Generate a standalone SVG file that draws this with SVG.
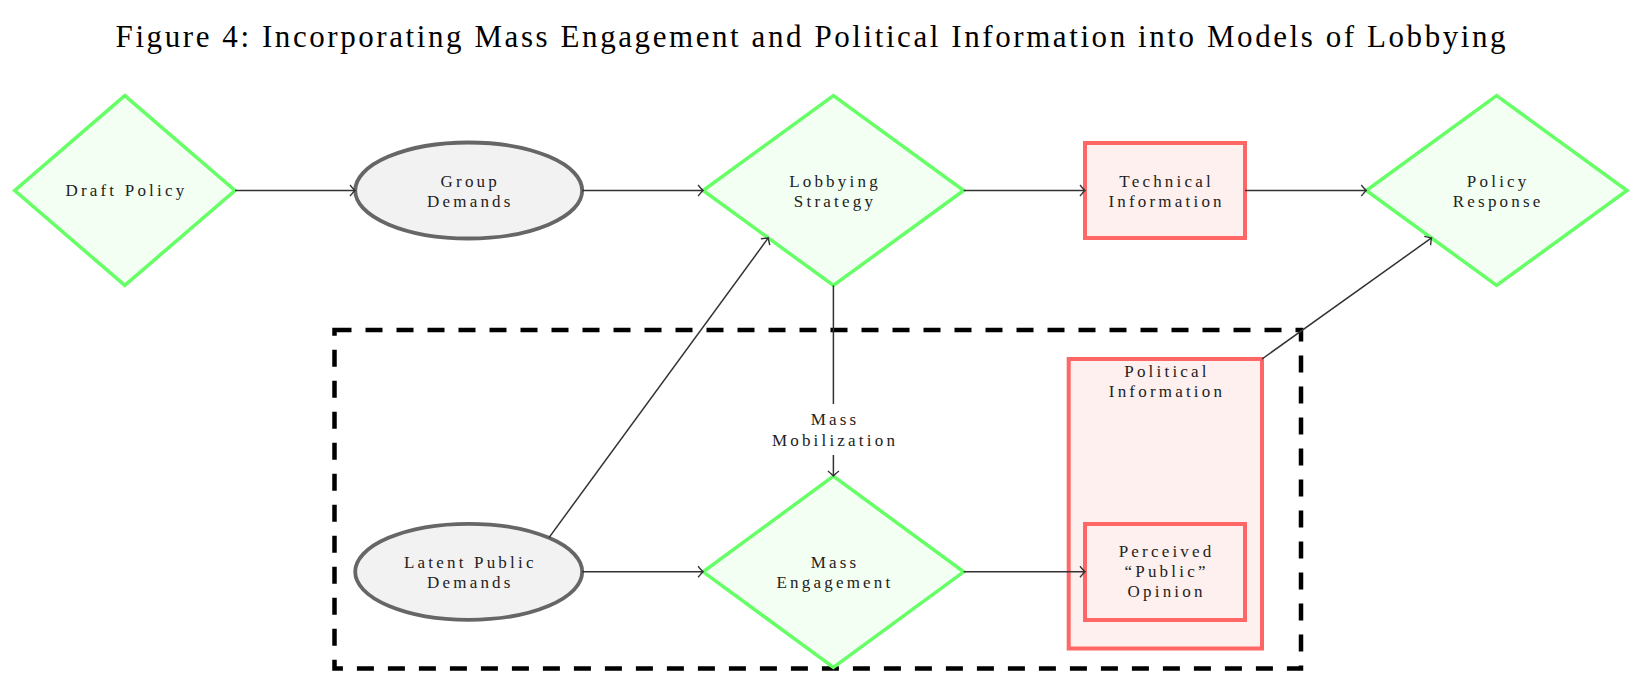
<svg xmlns="http://www.w3.org/2000/svg" width="1648" height="694" viewBox="0 0 1648 694">
<style>
.title{font-family:"Liberation Serif",serif;font-size:31px;fill:#000}
.lbl{font-family:"Liberation Serif",serif;font-size:17px;fill:#222;text-anchor:middle;letter-spacing:3.2px}
.dia{fill:#f2fff2;stroke:#66ff66;stroke-width:3.5}
.ell{fill:#f2f2f2;stroke:#666;stroke-width:3.8}
.box{fill:#fff0f0;stroke:#ff6666;stroke-width:4}
.con{stroke:#333;stroke-width:1.5;fill:none}
.arr{marker-end:url(#to)}
</style>
<defs>
<marker id="to" markerUnits="userSpaceOnUse" markerWidth="14" markerHeight="14" viewBox="-7 -7 14 14" refX="0" refY="0" orient="auto">
<path d="M -5 -5.5 Q -1.5 -1.3 0 0 Q -1.5 1.3 -5 5.5" fill="none" stroke="#333" stroke-width="1.4"/>
</marker>
</defs>
<rect width="1648" height="694" fill="#fff"/>
<text class="title" x="115.6" y="47" textLength="1390">Figure 4: Incorporating Mass Engagement and Political Information into Models of Lobbying</text>

<g id="mass-box">
<rect x="334.5" y="330" width="966.5" height="338.4" fill="none" stroke="#000" stroke-width="4.5" stroke-dasharray="17 14"/>
</g>

<g id="draft-policy">
<polygon class="dia" points="124.8,95.6 235,190.5 124.8,285.4 14.7,190.5"/>
<text class="lbl" x="126.4" y="196">Draft Policy</text>
</g>
<g id="group-demands">
<ellipse class="ell" cx="468.7" cy="190.5" rx="113.5" ry="48"/>
<text class="lbl" x="470.3" y="187">Group</text>
<text class="lbl" x="470.3" y="207">Demands</text>
</g>
<g id="lobbying-strategy">
<polygon class="dia" points="833.4,95.6 963.7,190.5 833.4,285.4 703.1,190.5"/>
<text class="lbl" x="835" y="187">Lobbying</text>
<text class="lbl" x="835" y="207">Strategy</text>
</g>
<g id="technical-information">
<rect class="box" x="1085" y="143" width="160" height="95"/>
<text class="lbl" x="1166.6" y="187">Technical</text>
<text class="lbl" x="1166.6" y="207">Information</text>
</g>
<g id="policy-response">
<polygon class="dia" points="1496.6,95.6 1627,190.5 1496.6,285.4 1366.3,190.5"/>
<text class="lbl" x="1498.2" y="187">Policy</text>
<text class="lbl" x="1498.2" y="207">Response</text>
</g>
<g id="latent-public-demands">
<ellipse class="ell" cx="468.7" cy="571.8" rx="113.5" ry="48"/>
<text class="lbl" x="470.3" y="568">Latent Public</text>
<text class="lbl" x="470.3" y="588">Demands</text>
</g>
<g id="mass-engagement">
<polygon class="dia" points="833.4,476.2 963.7,571.8 833.4,667.4 703.1,571.8"/>
<text class="lbl" x="835" y="568">Mass</text>
<text class="lbl" x="835" y="588">Engagement</text>
</g>
<g id="political-information">
<rect class="box" x="1068.7" y="359" width="193.3" height="289.5"/>
<text class="lbl" x="1167" y="377">Political</text>
<text class="lbl" x="1167" y="397">Information</text>
</g>
<g id="perceived-public-opinion">
<rect class="box" x="1085" y="524" width="160" height="96"/>
<text class="lbl" x="1166.6" y="557">Perceived</text>
<text class="lbl" x="1166.6" y="577">“Public”</text>
<text class="lbl" x="1166.6" y="597">Opinion</text>
</g>

<g id="connectors">
<line class="con arr" x1="235" y1="190.5" x2="355" y2="190.5"/>
<line class="con arr" x1="582.2" y1="190.5" x2="703.1" y2="190.5"/>
<line class="con arr" x1="963.7" y1="190.5" x2="1085" y2="190.5"/>
<line class="con arr" x1="1245" y1="190.5" x2="1366.3" y2="190.5"/>
<line class="con arr" x1="582.2" y1="571.8" x2="703.1" y2="571.8"/>
<line class="con arr" x1="963.7" y1="571.8" x2="1085" y2="571.8"/>
<line class="con arr" x1="549" y1="537.6" x2="768.3" y2="237.9"/>
<line class="con arr" x1="1262" y1="359" x2="1431.5" y2="237.9"/>
<line class="con" x1="833.4" y1="285.4" x2="833.4" y2="404"/>
<line class="con arr" x1="833.4" y1="455" x2="833.4" y2="476"/>
<text class="lbl" x="835" y="425">Mass</text>
<text class="lbl" x="835" y="446">Mobilization</text>
</g>
</svg>
